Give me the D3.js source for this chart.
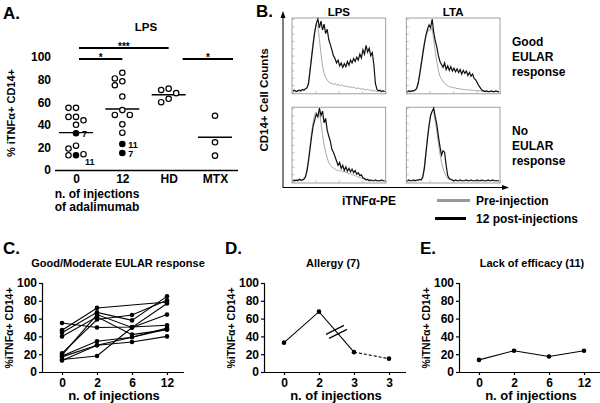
<!DOCTYPE html>
<html><head><meta charset="utf-8">
<script src="https://cdn.jsdelivr.net/npm/d3@7"></script>
<style>
body{margin:0;background:#fff}
svg{display:block}
text{font-family:"Liberation Sans",Arial,Helvetica,sans-serif;font-weight:bold;fill:#000}
</style>
</head><body>
<svg id="c" width="600" height="403"></svg>
<script>
// ---------------- DATA ----------------
// Panel A
const aGroups = ["0", "12", "HD", "MTX"];
const aOpen0 = [55, 55, 47, 47, 44, 40, 21.5, 19, 14, 13];
const aOpen12 = [86, 81, 78.5, 75, 65, 53, 48.7, 48.7, 40.4, 33];
const aOpenHD = [72, 70.8, 68, 63, 60];
const aOpenMTX = [48, 24.5, 12.7];
const aMedians = [33, 54, 66.6, 29];
const aFilledGroup = ["0", "0", "12", "12"];
const aFilledVal = [32.5, 13, 23, 15];
const aFilledId = ["7", "11", "11", "7"];
const aSigFrom = ["0", "0", "HD"];
const aSigTo = ["HD", "12", "MTX"];
const aSigLabel = ["***", "*", "*"];
const aYTicks = [0, 20, 40, 60, 80, 100];

// Panel B (histograms, % of max count over 60 channels)
const bCols = ["LPS", "LTA"];
const bRows = ["Good", "No"];
const histLpsGoodPost = [2,3,1,2,3,2,4,3,5,6, 12,30,48,66,82,94,100,88,97,85, 93,80,86,72,65,58,50,46,40,44, 36,40,34,39,35,42,37,44,40,46, 42,48,44,52,47,58,52,64,55,60, 50,54,38,12,4,2,3,1,2,1];
const histLpsGoodPre = [1,2,1,2,2,1,3,2,4,6, 14,32,52,70,85,93,90,72,52,36, 26,20,17,14,13,12,11,12,10,11, 9,10,9,8,9,7,8,7,6,7, 6,5,6,5,4,5,4,3,4,3, 3,2,2,2,1,2,1,1,2,1];
const histLtaGoodPost = [1,2,1,2,2,3,5,12,24,38, 52,66,78,86,92,88,100,82,70,62, 50,42,38,34,40,31,36,30,35,29, 33,28,32,27,31,25,30,26,29,23, 27,22,25,19,17,13,9,6,3,2, 1,2,1,1,2,1,1,2,1,1];
const histLtaGoodPre = [1,1,2,1,2,2,6,14,28,42, 56,68,76,82,86,84,88,72,56,42, 30,22,18,15,12,10,9,8,7,7, 6,6,5,5,5,4,4,4,3,4, 3,3,3,2,3,2,2,2,1,1, 2,1,1,1,1,1,1,1,1,1];
const histLpsNoPost = [2,1,2,1,3,2,2,3,6,14, 28,45,62,76,84,92,88,100,90,96, 80,86,70,62,55,44,40,34,28,22, 26,18,22,15,20,14,18,13,17,12, 15,10,12,8,9,5,4,2,3,1, 2,1,1,2,1,1,1,2,1,1];
const histLpsNoPre = [1,2,1,2,2,2,3,4,8,18, 32,50,68,82,92,95,90,94,80,64, 50,40,32,26,22,20,18,17,15,16, 14,15,13,14,12,12,10,11,9,9, 8,7,6,5,5,4,3,3,2,2, 1,2,1,1,1,1,1,1,1,1];
const histLtaNoPost = [1,2,1,1,2,1,2,2,3,2, 6,18,38,58,76,90,96,100,88,78, 62,48,36,42,40,22,8,4,3,2, 1,2,1,1,2,1,1,1,2,1, 1,2,1,1,1,2,1,1,2,1, 1,1,2,1,1,2,1,1,1,1];
const histLtaNoPre = [1,1,1,1,1,2,1,2,2,3, 8,22,42,62,78,90,96,94,82,68, 52,38,26,18,12,7,4,3,2,1, 1,1,2,1,1,1,1,2,1,1, 1,1,1,2,1,1,1,1,1,1, 1,1,1,1,2,1,1,1,1,1];
const bLegend = ["Pre-injection", "12 post-injections"];

// Panel C (10 patients, values at 0, 2, 6, 12 injections)
const cTicks = ["0", "2", "6", "12"];
const cWeek0 = [55, 47, 44, 40, 21, 19, 18, 13, 14, 17];
const cWeek2 = [50, 72, 67, 62, 59, 64.5, 34.5, 30, 18, 30];
const cWeek6 = [50.6, null, 58, 42, 64, 50, 39, 33.7, 50, null];
const cWeek12 = [52.5, 78.7, 85, 47.6, 80.6, 77, 49.5, 40, 64.5, 48];

// Panel D
const dTicks = ["0", "2", "3", "3"];
const dVals = [33, 67.8, 22.3, 15];
// Panel E
const eTicks = ["0", "2", "6", "12"];
const eVals = [13.6, 23.9, 17.4, 23.9];
const lineYTicks = [0, 20, 40, 60, 80, 100];

// ---------------- DRAW ----------------
const svg = d3.select("#c");

function label(x, y, s, size, anchor, rot) {
  const t = svg.append("text").attr("font-size", size).attr("text-anchor", anchor || "start").text(s);
  if (rot) t.attr("transform", `translate(${x},${y}) rotate(${rot})`);
  else t.attr("x", x).attr("y", y);
  return t;
}

// ===== Panel A =====
label(3, 19, "A.", 17);
label(146, 31, "LPS", 11.5, "middle");
const ax = d3.scalePoint().domain(aGroups).range([76, 215]);
const ay = d3.scaleLinear().domain([0, 100]).range([170, 57]);

const gAy = svg.append("g").attr("transform", "translate(55,0)")
  .call(d3.axisLeft(ay).tickValues(aYTicks).tickSize(0).tickPadding(4));
gAy.select(".domain").remove();
gAy.selectAll("text").attr("font-size", 12).style("font-family", '"Liberation Sans",Arial,sans-serif').style("font-weight", "bold");

const gAx = svg.append("g").attr("transform", "translate(0,170)")
  .call(d3.axisBottom(ax).tickSize(0).tickPadding(4));
gAx.select(".domain").attr("d", "M55,0.5H238").attr("stroke", "#000").attr("stroke-width", 1.3);
gAx.selectAll("text").attr("font-size", 12).style("font-family", '"Liberation Sans",Arial,sans-serif').style("font-weight", "bold");

label(15, 113, "% iTNF\u03B1+ CD14+", 11, "middle", -90);
label(97, 197.5, "n. of injections", 12, "middle");
label(97, 211, "of adalimumab", 12, "middle");

// significance bars
aSigFrom.forEach((f, i) => {
  const t = aSigTo[i];
  const span = aGroups.indexOf(t) - aGroups.indexOf(f);
  const yb = span > 1 ? 48 : 59;
  const x1 = ax(f) + (i === 2 ? 14 : 3);
  const x2 = ax(t) + (aGroups.indexOf(t) === aGroups.length - 1 ? 18 : 0);
  svg.append("line").attr("x1", x1).attr("x2", x2).attr("y1", yb).attr("y2", yb)
    .attr("stroke", "#000").attr("stroke-width", 2);
  label((x1 + x2) / 2, yb + 2, aSigLabel[i], 10, "middle");
});

// medians
aGroups.forEach((g, i) => {
  svg.append("line").attr("x1", ax(g) - 17).attr("x2", ax(g) + 17)
    .attr("y1", ay(aMedians[i])).attr("y2", ay(aMedians[i]))
    .attr("stroke", "#000").attr("stroke-width", 1.3);
});

// dodge placement for points
const aOpenSets = [aOpen0, aOpen12, aOpenHD, aOpenMTX];
const slotW = 7.5, rad = 2.7;
aGroups.forEach((g, gi) => {
  const placed = [];
  const pts = [];
  aFilledGroup.forEach((fg, k) => { if (fg === g) pts.push({ v: aFilledVal[k], filled: true, id: aFilledId[k] }); });
  aOpenSets[gi].slice().sort((a, b) => b - a).forEach(v => pts.push({ v, filled: false }));
  pts.forEach(p => {
    const py = ay(p.v);
    for (const s of [0, -1, 1, -2, 2]) {
      const px = ax(g) + s * slotW;
      if (!placed.some(q => Math.abs(q.x - px) < 1 && Math.abs(q.y - py) < 6.2)) {
        p.x = px; p.y = py; placed.push(p); break;
      }
    }
  });
  svg.append("g").selectAll("circle").data(placed).join("circle")
    .attr("cx", d => d.x).attr("cy", d => d.y).attr("r", rad)
    .attr("fill", d => d.filled ? "#000" : "#fff")
    .attr("stroke", "#000").attr("stroke-width", 1.2);
  placed.filter(d => d.filled).forEach(d => {
    const crowded = placed.some(q => !q.filled && q.x > d.x && Math.abs(q.y - d.y) < 4);
    label(d.x + (crowded ? 9 : 6), d.y + (crowded ? 10 : 4), d.id, 9);
  });
});

// ===== Panel B =====
label(256, 17, "B.", 17);
const bx = d3.scaleBand().domain(bCols).range([292, 500]).paddingInner(0.18);
const by = d3.scaleBand().domain(bRows).range([18, 183]).paddingInner(0.15);
bCols.forEach(c => label(bx(c) + bx.bandwidth() / 2, 16, c, 11.5, "middle"));

const histSets = {
  "LPS|Good": [histLpsGoodPre, histLpsGoodPost],
  "LTA|Good": [histLtaGoodPre, histLtaGoodPost],
  "LPS|No": [histLpsNoPre, histLpsNoPost],
  "LTA|No": [histLtaNoPre, histLtaNoPost]
};
bRows.forEach(r => {
  bCols.forEach(c => {
    const x0 = bx(c), y0 = by(r), w = bx.bandwidth(), h = by.bandwidth();
    const g = svg.append("g").attr("transform", `translate(${x0},${y0})`);
    const hxs = d3.scaleLinear().domain([0, 59]).range([1, w - 1]);
    const hys = d3.scaleLinear().domain([0, 100]).range([h - 1.5, 1]);
    g.append("rect").attr("x", 0).attr("y", 0).attr("width", w).attr("height", h)
      .attr("fill", "none").attr("stroke", "#888").attr("stroke-width", 0.8);
    const la = g.append("g").call(d3.axisRight(hys).ticks(9).tickSize(2.5).tickFormat(""));
    la.select(".domain").remove();
    la.selectAll("line").attr("stroke", "#999").attr("stroke-width", 0.6);
    const ba = g.append("g").attr("transform", `translate(0,${h})`)
      .call(d3.axisTop(d3.scaleLinear().domain([0, 4]).range([0, w])).ticks(4).tickSize(2.5).tickFormat(""));
    ba.select(".domain").remove();
    ba.selectAll("line").attr("stroke", "#999").attr("stroke-width", 0.6);
    const line = d3.line().x((d, i) => hxs(i)).y(d => hys(d));
    const [pre, post] = histSets[c + "|" + r];
    g.append("path").attr("d", line(pre)).attr("fill", "none").attr("stroke", "#a8a8a8").attr("stroke-width", 1);
    g.append("path").attr("d", line(post)).attr("fill", "none").attr("stroke", "#111").attr("stroke-width", 1.2);
  });
});
// Row labels
const rowText = { "Good": ["Good", "EULAR", "response"], "No": ["No", "EULAR", "response"] };
bRows.forEach(r => {
  const cy = by(r) + by.bandwidth() / 2;
  rowText[r].forEach((s, i) => label(512, cy - 10 + i * 15, s, 12));
});
// axes arrows
svg.append("line").attr("x1", 283).attr("x2", 283).attr("y1", 188).attr("y2", 17).attr("stroke", "#000").attr("stroke-width", 1);
svg.append("path").attr("d", "M283,11L280.5,18L285.5,18Z").attr("fill", "#000");
svg.append("line").attr("x1", 283).attr("x2", 503).attr("y1", 187.5).attr("y2", 187.5).attr("stroke", "#000").attr("stroke-width", 1);
svg.append("path").attr("d", "M509,187.5L502,185L502,190Z").attr("fill", "#000");
label(268, 100, "CD14+ Cell Counts", 11.5, "middle", -90);
label(342, 205, "iTNF\u03B1-PE", 12);
// legend
svg.append("line").attr("x1", 437).attr("x2", 470).attr("y1", 200.5).attr("y2", 200.5).attr("stroke", "#999").attr("stroke-width", 3);
label(476, 205, bLegend[0], 12);
svg.append("line").attr("x1", 435).attr("x2", 466).attr("y1", 218.5).attr("y2", 218.5).attr("stroke", "#000").attr("stroke-width", 3);
label(476, 223, bLegend[1], 12);

// ===== Panels C, D, E =====
function linePanel(x0, letter, title, titleX, ticks) {
  label(x0 - 39, 254, letter, 17);
  label(titleX, 267, title, 11, "middle");
  const x = d3.scalePoint().domain(d3.range(ticks.length)).range([x0 + 20, x0 + 125]);
  const y = d3.scaleLinear().domain([0, 100]).range([372, 283]);
  const gy = svg.append("g").attr("transform", `translate(${x0},0)`)
    .call(d3.axisLeft(y).tickValues(lineYTicks).tickSize(3).tickPadding(2));
  gy.select(".domain").attr("d", "M0.5,372V283").attr("stroke", "#000").attr("stroke-width", 1.2);
  gy.selectAll("line").attr("stroke-width", 1.2);
  gy.selectAll("text").attr("font-size", 12).style("font-family", '"Liberation Sans",Arial,sans-serif').style("font-weight", "bold");
  const gx = svg.append("g").attr("transform", "translate(0,372)")
    .call(d3.axisBottom(x).tickSize(3).tickPadding(3).tickFormat(i => ticks[i]));
  gx.select(".domain").attr("d", `M${x0},0.5H${x0 + 142}`).attr("stroke", "#000").attr("stroke-width", 1.2);
  gx.selectAll("line").attr("stroke-width", 1.2);
  gx.selectAll("text").attr("font-size", 12).style("font-family", '"Liberation Sans",Arial,sans-serif').style("font-weight", "bold");
  label(x0 - 29, 328, "%iTNF\u03B1+ CD14+", 10.5, "middle", -90);
  label(x0 + 72, 400, "n. of injections", 13, "middle");
  return { x, y };
}

// C
{
  const { x, y } = linePanel(42, "C.", "Good/Moderate EULAR response", 118, cTicks);
  const weeks = [cWeek0, cWeek2, cWeek6, cWeek12];
  const line = d3.line().x(d => x(d.i)).y(d => y(d.v));
  cWeek0.forEach((_, p) => {
    const pts = weeks.map((w, i) => ({ i, v: w[p] })).filter(d => d.v != null);
    svg.append("path").attr("d", line(pts)).attr("fill", "none").attr("stroke", "#000").attr("stroke-width", 1.1);
    svg.append("g").selectAll("circle").data(pts).join("circle")
      .attr("cx", d => x(d.i)).attr("cy", d => y(d.v)).attr("r", 2.3).attr("fill", "#000");
  });
}
// D
{
  const { x, y } = linePanel(264, "D.", "Allergy (7)", 333, dTicks);
  const pts = dVals.map((v, i) => ({ i, v }));
  const line = d3.line().x(d => x(d.i)).y(d => y(d.v));
  svg.append("path").attr("d", line(pts.slice(0, 3))).attr("fill", "none").attr("stroke", "#000").attr("stroke-width", 1.1);
  svg.append("path").attr("d", line(pts.slice(2, 4))).attr("fill", "none").attr("stroke", "#000").attr("stroke-width", 1.1).attr("stroke-dasharray", "3,2");
  // break marks on the 2 -> 3 segment
  const mx = (x(1) + x(2)) / 2, my = (y(pts[1].v) + y(pts[2].v)) / 2;
  [-2.5, 2.5].forEach(o => {
    const cx = mx + o * 0.6, cy = my + o * 0.8;
    svg.append("line").attr("x1", cx - 9).attr("y1", cy + 4.5).attr("x2", cx + 9).attr("y2", cy - 4.5)
      .attr("stroke", "#000").attr("stroke-width", 1.2);
  });
  svg.append("g").selectAll("circle").data(pts).join("circle")
    .attr("cx", d => x(d.i)).attr("cy", d => y(d.v)).attr("r", 2.3).attr("fill", "#000");
}
// E
{
  const { x, y } = linePanel(459, "E.", "Lack of efficacy (11)", 532, eTicks);
  const pts = eVals.map((v, i) => ({ i, v }));
  const line = d3.line().x(d => x(d.i)).y(d => y(d.v));
  svg.append("path").attr("d", line(pts)).attr("fill", "none").attr("stroke", "#000").attr("stroke-width", 1.1);
  svg.append("g").selectAll("circle").data(pts).join("circle")
    .attr("cx", d => x(d.i)).attr("cy", d => y(d.v)).attr("r", 2.3).attr("fill", "#000");
}
</script>
</body></html>
